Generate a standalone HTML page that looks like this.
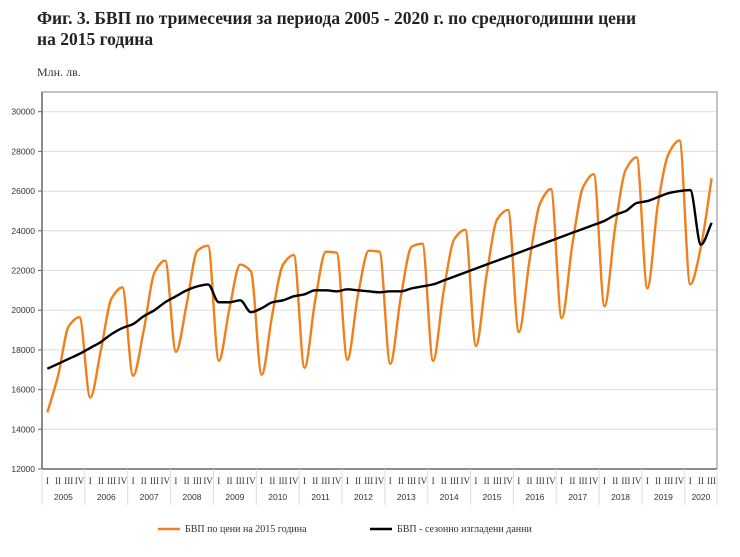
<!DOCTYPE html>
<html><head><meta charset="utf-8"><style>
body{margin:0;background:#fff;width:740px;height:557px;overflow:hidden}
.t{position:absolute;left:37px;top:8px;font:bold 17.5px "Liberation Serif",serif;line-height:21px;color:#222}
</style></head><body>
<div class="t">Фиг. 3. БВП по тримесечия за периода 2005 - 2020 г. по средногодишни цени<br>на 2015 година</div>
<svg id="s" width="740" height="557" style="position:absolute;left:0;top:0"></svg>
<script>
var o=[14850,16700,19200,19650,15600,18000,20600,21150,16700,19000,21900,22500,17900,20300,23000,23250,17450,20100,22300,21950,16750,19800,22300,22780,17100,20500,22950,22900,17500,20800,23000,22950,17300,20700,23200,23350,17450,21000,23600,24050,18200,21800,24600,25050,18900,22500,25400,26100,19600,23300,26200,26850,20200,24200,27100,27700,21100,25400,27900,28550,21300,23200,26650];
var b=[17050,17300,17550,17800,18100,18400,18800,19100,19300,19700,20000,20400,20700,21000,21200,21300,20400,20400,20500,19900,20100,20400,20500,20700,20800,21000,21000,20950,21050,21000,20950,20900,20950,20950,21100,21200,21300,21500,21700,21900,22100,22300,22500,22700,22900,23100,23300,23500,23700,23900,24100,24300,24500,24800,25000,25400,25500,25700,25900,26000,26050,23300,24400];
var L=42,R=717,T=92,B=469,w=(R-L)/63;
function X(i){return L+w*(i+.5)}function Y(v){return B-(v-12000)*(B-111.7)/18000}
function path(d){var y=d.map(Y),n=y.length,s=[],m=[];
for(var i=0;i<n-1;i++)s.push((y[i+1]-y[i])/w);
for(var i=0;i<n;i++){if(i==0)m.push(s[0]);else if(i==n-1)m.push(s[n-2]);else{var a=s[i-1],c=s[i];m.push(a*c<=0?0:2/(1/a+1/c));}}
var p="M"+X(0)+","+y[0];
for(var i=0;i<n-1;i++){p+="C"+(X(i)+w/3)+","+(y[i]+m[i]*w/3)+" "+(X(i+1)-w/3)+","+(y[i+1]-m[i+1]*w/3)+" "+X(i+1)+","+y[i+1];}return p}
var h="";
for(var v=12000;v<=30000;v+=2000){var yy=Y(v);if(v>12000)h+='<line x1="'+L+'" x2="'+R+'" y1="'+yy+'" y2="'+yy+'" stroke="#dcdcdc"/>';
h+='<line x1="38" x2="'+L+'" y1="'+yy+'" y2="'+yy+'" stroke="#666"/><text x="35" y="'+(yy+3)+'" text-anchor="end" font-family="Liberation Sans,sans-serif" font-size="8.5" fill="#333">'+v+'</text>';}
h+='<rect x="'+L+'" y="'+T+'" width="'+(R-L)+'" height="'+(B-T)+'" fill="none" stroke="#888"/>';
h+='<line x1="'+L+'" x2="'+L+'" y1="'+T+'" y2="'+B+'" stroke="#666" stroke-width="1.5"/><line x1="'+L+'" x2="'+R+'" y1="'+B+'" y2="'+B+'" stroke="#666" stroke-width="1.5"/>';
var q=["I","II","III","IV"];
for(var i=0;i<63;i++)h+='<text x="'+X(i)+'" y="484" text-anchor="middle" font-family="Liberation Serif,serif" font-size="9" fill="#333">'+q[i%4]+'</text>';
for(var yr=0;yr<16;yr++){var x0=L+w*4*yr;h+='<line x1="'+x0+'" x2="'+x0+'" y1="'+B+'" y2="505" stroke="#ddd"/>';
var xm=yr<15?x0+w*2:x0+w*1.5;h+='<text x="'+xm+'" y="500" text-anchor="middle" font-family="Liberation Sans,sans-serif" font-size="8.5" fill="#333">'+(2005+yr)+'</text>';}
h+='<line x1="'+R+'" x2="'+R+'" y1="'+B+'" y2="505" stroke="#ddd"/>';
h+='<path d="'+path(o)+'" fill="none" stroke="#f07f1c" stroke-width="2.4"/>';
h+='<path d="'+path(b)+'" fill="none" stroke="#000" stroke-width="2.4"/>';
h+='<line x1="158" x2="180" y1="529" y2="529" stroke="#f07f1c" stroke-width="2.6"/><text x="185" y="532" font-family="Liberation Serif,serif" font-size="10" fill="#333">БВП по цени на 2015 година</text>';
h+='<line x1="370" x2="392" y1="529" y2="529" stroke="#000" stroke-width="2.6"/><text x="397" y="532" font-family="Liberation Serif,serif" font-size="10" fill="#333">БВП - сезонно изгладени данни</text>';
h+='<text x="37" y="76" font-family="Liberation Serif,serif" font-size="12" fill="#333">Млн. лв.</text>';
document.getElementById("s").innerHTML=h;
</script>
</body></html>
